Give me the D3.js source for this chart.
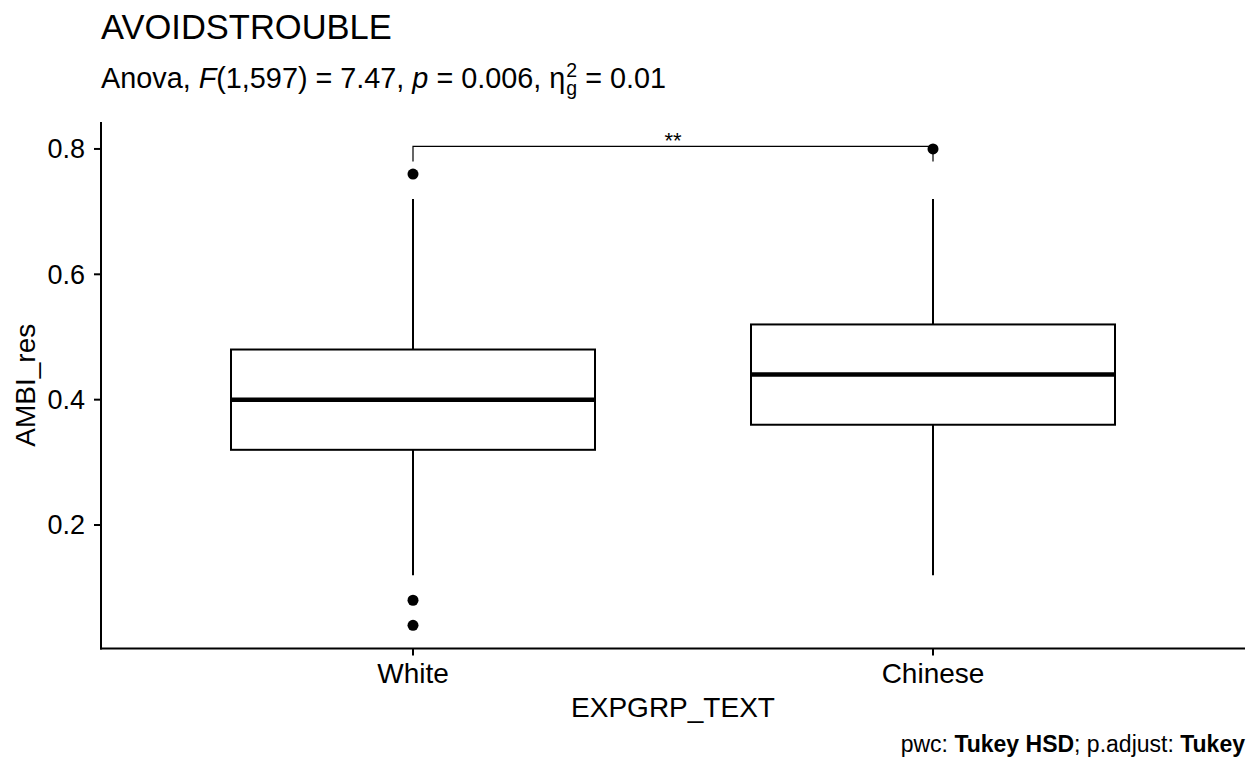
<!DOCTYPE html>
<html>
<head>
<meta charset="utf-8">
<script src="https://cdn.jsdelivr.net/npm/d3@7"></script>
<style>
  html, body { margin: 0; padding: 0; background: #fff; }
  svg { display: block; font-family: "Liberation Sans", Arial, Helvetica, sans-serif; }
</style>
</head>
<body>
<svg id="chart" width="1259" height="778"></svg>
<script>
// ---- data ----
const groups = ["White", "Chinese"];
const q1 = [0.32, 0.36];
const medians = [0.40, 0.44];
const q3 = [0.48, 0.52];
const whiskerLow = [0.12, 0.12];
const whiskerHigh = [0.72, 0.72];
const outliers = [[0.76, 0.08, 0.04], [0.80]];
const yTicks = [0.2, 0.4, 0.6, 0.8];
const bracketY = 0.804;
const bracketTip = 0.78;
const bracketLabel = "**";
const titleText = "AVOIDSTROUBLE";
const xTitle = "EXPGRP_TEXT";
const yTitle = "AMBI_res";

(function () {
const svg = d3.select("#chart");
const pLeft = 101, pRight = 1245, pTop = 122, pBottom = 648.5;

const x = d3.scalePoint().domain(groups).range([pLeft, pRight]).padding(0.6);
const y = d3.scaleLinear().domain([0.003, 0.843]).range([pBottom, pTop]);
const boxW = x.step() * 0.7;

// title
svg.append("text").attr("x", 101).attr("y", 38.5)
  .attr("font-size", 34.5).attr("fill", "#000").text(titleText);

// subtitle as one text with tspans
const baseY = 87.5;
const st = svg.append("text").attr("x", 101).attr("y", baseY)
  .attr("font-size", 28.8).attr("fill", "#000").style("white-space", "pre");
st.append("tspan").text("Anova, ");
st.append("tspan").attr("font-style", "italic").text("F");
st.append("tspan").text("(1,597) = 7.47, ");
st.append("tspan").attr("font-style", "italic").text("p");
st.append("tspan").text(" = 0.006, ");
st.append("tspan").text("\u03B7");
const sup = st.append("tspan").attr("font-size", 19.5).attr("dx", 1).attr("dy", -11).text("2");
const supW = sup.node().getComputedTextLength();
st.append("tspan").attr("font-size", 19.5).attr("dx", -supW).attr("dy", 18).text("g");
st.append("tspan").attr("dy", -7).text(" = 0.01");

// axes lines
svg.append("line").attr("x1", pLeft).attr("x2", pLeft).attr("y1", pTop).attr("y2", pBottom + 1)
  .attr("stroke", "#000").attr("stroke-width", 2);
svg.append("line").attr("x1", pLeft - 1).attr("x2", pRight).attr("y1", pBottom).attr("y2", pBottom)
  .attr("stroke", "#000").attr("stroke-width", 2);

// y ticks
const yAxis = svg.append("g");
yTicks.forEach(t => {
  yAxis.append("line").attr("x1", pLeft - 7).attr("x2", pLeft).attr("y1", y(t)).attr("y2", y(t))
    .attr("stroke", "#000").attr("stroke-width", 2);
  yAxis.append("text").attr("x", pLeft - 16).attr("y", y(t)).attr("dy", "0.35em")
    .attr("text-anchor", "end").attr("font-size", 27).attr("fill", "#000").text(d3.format(".1f")(t));
});

// x ticks
groups.forEach(g => {
  svg.append("line").attr("x1", x(g)).attr("x2", x(g)).attr("y1", pBottom).attr("y2", pBottom + 7)
    .attr("stroke", "#000").attr("stroke-width", 2);
  svg.append("text").attr("x", x(g)).attr("y", 683).attr("text-anchor", "middle")
    .attr("font-size", 28).attr("fill", "#000").text(g);
});

// axis titles
svg.append("text").attr("x", (pLeft + pRight) / 2).attr("y", 717).attr("text-anchor", "middle")
  .attr("font-size", 28).attr("fill", "#000").text(xTitle);
svg.append("text").attr("transform", `translate(35,${(pTop + pBottom) / 2}) rotate(-90)`)
  .attr("text-anchor", "middle").attr("font-size", 28).attr("fill", "#000").text(yTitle);

// boxes
groups.forEach((g, i) => {
  const gx = x(g);
  const gg = svg.append("g");
  gg.append("line").attr("x1", gx).attr("x2", gx).attr("y1", y(whiskerHigh[i])).attr("y2", y(q3[i]))
    .attr("stroke", "#000").attr("stroke-width", 2);
  gg.append("line").attr("x1", gx).attr("x2", gx).attr("y1", y(q1[i])).attr("y2", y(whiskerLow[i]))
    .attr("stroke", "#000").attr("stroke-width", 2);
  gg.append("rect").attr("x", gx - boxW / 2).attr("y", y(q3[i]))
    .attr("width", boxW).attr("height", y(q1[i]) - y(q3[i]))
    .attr("fill", "#fff").attr("stroke", "#000").attr("stroke-width", 2);
  gg.append("line").attr("x1", gx - boxW / 2).attr("x2", gx + boxW / 2)
    .attr("y1", y(medians[i])).attr("y2", y(medians[i]))
    .attr("stroke", "#000").attr("stroke-width", 4.5);
  outliers[i].forEach(o => {
    gg.append("circle").attr("cx", gx).attr("cy", y(o)).attr("r", 5.5).attr("fill", "#000");
  });
});

// bracket
const bx1 = x(groups[0]), bx2 = x(groups[1]);
svg.append("path")
  .attr("d", `M${bx1},${y(bracketTip)}V${y(bracketY)}H${bx2}V${y(bracketTip)}`)
  .attr("fill", "none").attr("stroke", "#000").attr("stroke-width", 1.2);
svg.append("text").attr("x", (bx1 + bx2) / 2).attr("y", 148).attr("text-anchor", "middle")
  .attr("font-size", 22).attr("fill", "#000").text(bracketLabel);

// caption
const cap = svg.append("text").attr("x", 1245).attr("y", 752).attr("text-anchor", "end")
  .attr("font-size", 23).attr("fill", "#000");
cap.append("tspan").text("pwc: ");
cap.append("tspan").attr("font-weight", "bold").text("Tukey HSD");
cap.append("tspan").text("; p.adjust: ");
cap.append("tspan").attr("font-weight", "bold").text("Tukey");
})();
</script>
</body>
</html>
